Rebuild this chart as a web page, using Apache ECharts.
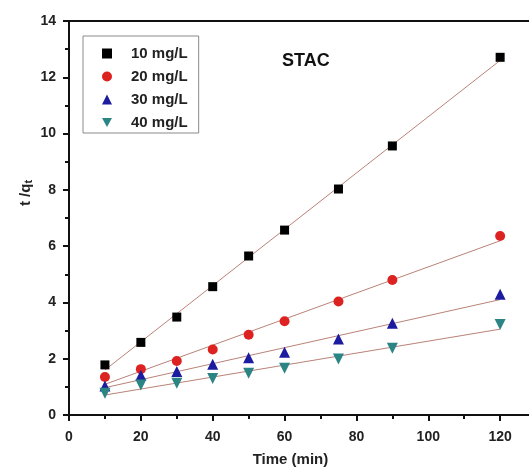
<!DOCTYPE html>
<html>
<head>
<meta charset="utf-8">
<script src="https://cdn.jsdelivr.net/npm/echarts@6/dist/echarts.min.js"></script>
<style>html,body{margin:0;padding:0;background:#fff;}#c{width:529px;height:470px;}</style>
</head>
<body>
<div id="c"></div>
<script>
var times = [10, 20, 30, 40, 50, 60, 75, 90, 120];
var names = ['10 mg/L', '20 mg/L', '30 mg/L', '40 mg/L'];
var s10 = [1.78, 2.58, 3.48, 4.56, 5.65, 6.57, 8.03, 9.56, 12.71];
var s20 = [1.35, 1.63, 1.92, 2.33, 2.85, 3.33, 4.03, 4.80, 6.36];
var s30 = [1.03, 1.41, 1.55, 1.80, 2.03, 2.23, 2.70, 3.26, 4.29];
var s40 = [0.77, 1.07, 1.13, 1.30, 1.48, 1.66, 1.99, 2.37, 3.22];
// fitted line end points (at t=10 and t=120)
var fitX = [10, 120];
var fit10 = [1.60, 12.60];
var fit20 = [1.09, 6.19];
var fit30 = [0.97, 4.10];
var fit40 = [0.71, 3.05];
var xTicks = [0, 20, 40, 60, 80, 100, 120];
var yTicks = [0, 2, 4, 6, 8, 10, 12, 14];

var colors = ['#000000', '#dd2222', '#1c1ca0', '#2b8585'];
var symbols = ['rect', 'circle', 'triangle', 'path://M0,0 L10,0 L5,9 Z'];
var sizes = [9, 10, 11, 11];
var fitColor = '#b98378';

function pairs(xs, ys) { return xs.map(function (x, i) { return [x, ys[i]]; }); }
var allS = [s10, s20, s30, s40];
var allF = [fit10, fit20, fit30, fit40];

var series = [];
allF.forEach(function (f, i) {
  series.push({
    type: 'line', name: 'fit' + i, data: pairs(fitX, f), showSymbol: false, symbol: 'none',
    lineStyle: { color: fitColor, width: 1 }, z: 1, silent: true
  });
});
allS.forEach(function (s, i) {
  series.push({
    type: 'scatter', name: names[i], data: pairs(times, s),
    symbol: symbols[i], symbolSize: sizes[i],
    itemStyle: { color: colors[i], opacity: 1 }, z: 3
  });
});

var chart = echarts.init(document.getElementById('c'), null, { renderer: 'canvas' });
var font = '"Liberation Sans", Arial, sans-serif';
chart.setOption({
  animation: false,
  backgroundColor: '#fff',
  grid: { left: 69, top: 21, width: 503, height: 394, show: true, borderColor: '#111', borderWidth: 2, containLabel: false, outerBoundsMode: 'none' },
  legend: {
    data: names,
    orient: 'vertical',
    left: 83, top: 36,
    padding: [10, 11, 3, 19],
    itemWidth: 10, itemHeight: 10, itemGap: 8,
    borderColor: '#8a8a8a', borderWidth: 1,
    textStyle: { fontFamily: font, fontWeight: 'bold', fontSize: 15, color: '#222', lineHeight: 14, padding: [0, 0, 0, 14] }
  },
  graphic: [{
    type: 'text', left: 282, top: 52,
    style: { text: 'STAC', font: 'bold 18px ' + font, fill: '#111' }
  }],
  xAxis: {
    type: 'value', min: 0, max: 140, interval: 20,
    name: 'Time (min)', nameLocation: 'middle', nameGap: 37, nameMoveOverlap: false,
    nameTextStyle: { fontFamily: font, fontWeight: 'bold', fontSize: 15, color: '#222', padding: [0, 60, 0, 0] },
    axisLine: { show: true, onZero: false, lineStyle: { color: '#111', width: 2 } },
    axisTick: { show: true, inside: false, length: 6, lineStyle: { color: '#111', width: 2 } },
    minorTick: { show: true, splitNumber: 2, length: 4, lineStyle: { color: '#111', width: 2 } },
    axisLabel: {
      margin: 15, fontFamily: font, fontWeight: 'bold', fontSize: 14, color: '#222',
      formatter: function (v) { return xTicks.indexOf(v) >= 0 ? String(v) : ''; }
    },
    splitLine: { show: false }
  },
  yAxis: {
    type: 'value', min: 0, max: 14, interval: 2,
    name: '{a|t /q}{b|t}', nameLocation: 'middle', nameGap: 35, nameRotate: 90, nameMoveOverlap: false,
    nameTextStyle: {
      fontFamily: font, fontWeight: 'bold', fontSize: 15, color: '#222', padding: [0, 0, 0, 50],
      rich: {
        a: { fontFamily: font, fontWeight: 'bold', fontSize: 15, color: '#222' },
        b: { fontFamily: font, fontWeight: 'bold', fontSize: 11, color: '#222', verticalAlign: 'bottom', padding: [6, 0, 0, 0] }
      }
    },
    axisLine: { show: true, lineStyle: { color: '#111', width: 2 } },
    axisTick: { show: true, inside: false, length: 6, lineStyle: { color: '#111', width: 2 } },
    minorTick: { show: true, splitNumber: 2, length: 4, lineStyle: { color: '#111', width: 2 } },
    axisLabel: {
      margin: 13, fontFamily: font, fontWeight: 'bold', fontSize: 14, color: '#222',
      formatter: function (v) { return yTicks.indexOf(v) >= 0 ? String(v) : ''; }
    },
    splitLine: { show: false }
  },
  series: series
});
</script>
</body>
</html>
